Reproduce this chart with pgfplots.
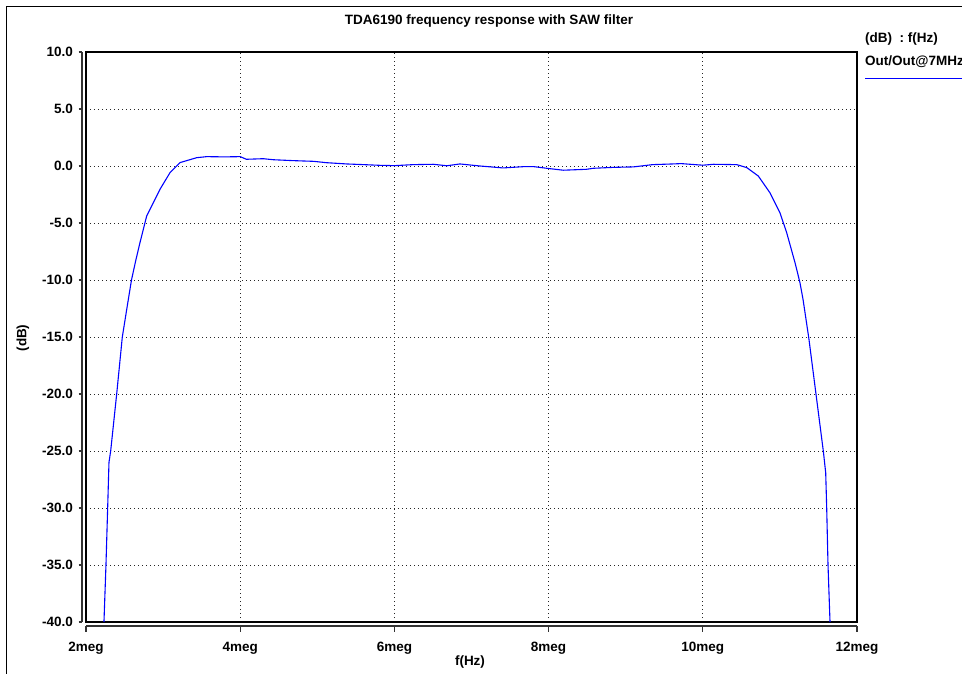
\documentclass[border=0pt]{standalone}
\usepackage{pgfplots}
\pgfplotsset{compat=1.18}
\usepackage{fontspec}
\setmainfont{Liberation Sans}
\definecolor{curveblue}{RGB}{0,0,255}
\newcommand{\chartfont}{\bfseries\fontsize{13.5}{15}\selectfont}
\begin{document}
\begin{tikzpicture}
\useasboundingbox (0pt,0pt) rectangle (962pt,-674pt);
\fill[white] (0pt,0pt) rectangle (962pt,-674pt);
\draw[line width=1pt] (6.5pt,-6.5pt) rectangle (990pt,-700pt);
\begin{axis}[
  at={(86pt,-622pt)}, anchor=south west,
  scale only axis, width=771pt, height=570pt,
  xmin=2, xmax=12, ymin=-40, ymax=10,
  xtick={2,4,6,8,10,12},
  xticklabels={2meg,4meg,6meg,8meg,10meg,12meg},
  ytick={-40,-35,-30,-25,-20,-15,-10,-5,0,5,10},
  yticklabels={-40.0,-35.0,-30.0,-25.0,-20.0,-15.0,-10.0,-5.0,0.0,5.0,10.0},
  major tick length=0pt,
  tick style={draw=none},
  tick label style={font=\chartfont},
  xticklabel style={anchor=north, inner sep=0pt, yshift=-20pt},
  yticklabel style={anchor=east, inner sep=0pt, xshift=-13pt},
  grid=major,
  major grid style={black!85, dash pattern=on 1.2pt off 2.8pt, line width=0.9pt},
  axis line style={line width=1.5pt, black},
  clip=true,
]
\addplot[curveblue, line width=1.1pt] coordinates {
(2.233,-40) (2.259,-35) (2.281,-30) (2.298,-26.0) (2.320,-25) (2.398,-20)
(2.471,-15) (2.53,-12.5) (2.59,-10.0) (2.645,-8.3) (2.70,-6.72)
(2.787,-4.39) (2.96,-2.04) (3.09,-0.58) (3.22,0.30) (3.436,0.73) (3.565,0.82)
(3.8,0.80) (4.0,0.82) (4.08,0.59) (4.30,0.64) (4.43,0.55) (4.69,0.47)
(4.95,0.41) (5.12,0.29) (5.38,0.18) (5.60,0.12) (5.81,0.06) (6.00,0.03)
(6.245,0.12) (6.505,0.15) (6.68,0.02) (6.85,0.18) (7.11,0.0) (7.41,-0.17)
(7.67,-0.06) (7.80,-0.05) (8.0,-0.22) (8.19,-0.37) (8.49,-0.29) (8.58,-0.2)
(8.84,-0.12) (9.10,-0.08) (9.35,0.12) (9.61,0.18) (9.72,0.21) (10.0,0.07)
(10.14,0.15) (10.44,0.12) (10.57,-0.14) (10.72,-0.88) (10.87,-2.34)
(11.0,-4.09) (11.088,-5.85) (11.196,-8.48) (11.26,-10.23) (11.30,-11.7)
(11.375,-15.1) (11.468,-20) (11.563,-25) (11.594,-26.9) (11.607,-30)
(11.624,-35) (11.650,-40)
};
\end{axis}
% offset axis lines
\draw[line width=1.2pt, black!80] (82pt,-52pt) -- (82pt,-622pt);
\foreach \v in {0,...,10} {
  \draw[line width=1.2pt, black!80] (78.5pt,{-52pt-\v*57pt}) -- (82pt,{-52pt-\v*57pt});
}
\draw[line width=1.2pt, black!80] (86pt,-626pt) -- (857pt,-626pt);
\foreach \v in {0,...,5} {
  \draw[line width=1.2pt, black!80] ({86pt+\v*154.2pt},-626pt) -- ({86pt+\v*154.2pt},-632pt);
}
% titles and labels
\node[font=\chartfont] at (489pt,-21pt) {TDA6190 frequency response with SAW filter};
\node[font=\chartfont] at (470pt,-662pt) {f(Hz)};
\node[font=\chartfont, rotate=90] at (23pt,-338pt) {(dB)};
% legend
\node[font=\chartfont, anchor=west, inner sep=0pt] at (865pt,-39pt) {(dB)\ \ :\ f(Hz)};
\node[font=\chartfont, anchor=west, inner sep=0pt] at (865pt,-62pt) {Out/Out@7MHz};
\draw[curveblue, line width=1.1pt] (865pt,-78.7pt) -- (975pt,-78.7pt);
\end{tikzpicture}
\end{document}
